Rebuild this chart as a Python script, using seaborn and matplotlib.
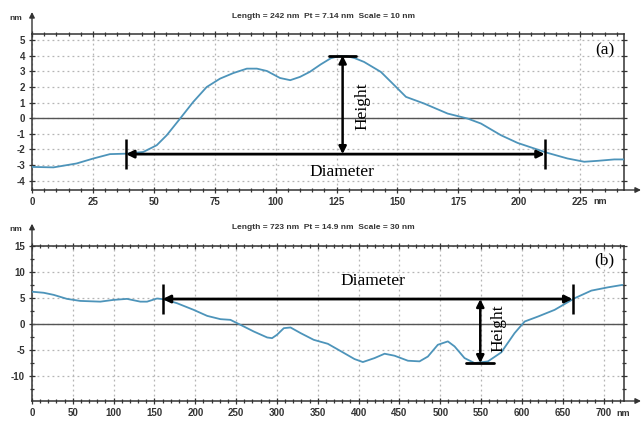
import numpy as np
import pandas as pd
import matplotlib
matplotlib.use("Agg")
import matplotlib.pyplot as plt
import seaborn as sns
from matplotlib.ticker import MultipleLocator, FixedLocator

# ---------------- data ----------------
a_x = [0, 8.8, 18.3, 25.2, 32, 38.9, 45.7, 51.2, 55.3, 60.8, 66.2, 71.7, 77.2, 82.7,
       88.2, 92.3, 96.4, 101.8, 106, 110, 114, 118.5, 122.7, 126, 129.5, 132.5,
       136.3, 143.2, 148.7, 153.5, 161, 170.6, 178.8, 184.3, 192.5, 199.3, 206.2,
       211.6, 219.8, 226.7, 232.2, 239, 243]
a_y = [-3.12, -3.15, -2.9, -2.58, -2.3, -2.27, -2.16, -1.73, -1.09, -0.02, 1.05,
       2.0, 2.54, 2.9, 3.18, 3.18, 3.03, 2.58, 2.44, 2.65, 2.97, 3.45, 3.85, 3.98,
       3.97, 3.85, 3.61, 2.97, 2.12, 1.37, 0.94, 0.3, -0.02, -0.34, -1.09, -1.58,
       -1.94, -2.22, -2.58, -2.79, -2.73, -2.64, -2.64]

b_x = [0, 14.3, 26.5, 42.8, 59.2, 83.7, 100, 116.4, 132.7, 140.9, 153.1, 161.3,
       177.6, 198, 214.5, 230.8, 243, 255.3, 271.6, 288, 294, 300, 308.4, 316.6,
       329, 345, 362.3, 378.7, 395, 405.2, 419.5, 431.8, 444, 460.4, 474.6, 484.8,
       497, 509.3, 517.5, 529.7, 542, 558.3, 574.7, 591, 603.3, 619.6, 640, 664.6,
       685, 705.4, 723]
b_y = [6.2, 6.0, 5.6, 4.83, 4.44, 4.3, 4.64, 4.83, 4.3, 4.3, 4.9, 4.76, 4.0, 2.73,
       1.58, 0.95, 0.82, -0.13, -1.41, -2.55, -2.68, -2.04, -0.77, -0.64, -1.72,
       -3.0, -3.76, -5.22, -6.68, -7.25, -6.49, -5.66, -6.04, -7.0, -7.12, -6.2,
       -3.95, -3.3, -4.26, -6.49, -7.45, -7.13, -5.4, -1.72, 0.5, 1.45, 2.73, 4.96,
       6.41, 7.04, 7.5]

a_xticks = [0, 25, 50, 75, 100, 125, 150, 175, 200, 225]
a_yticks = [-4, -3, -2, -1, 0, 1, 2, 3, 4, 5]
b_xticks = [0, 50, 100, 150, 200, 250, 300, 350, 400, 450, 500, 550, 600, 650, 700]
b_yticks = [-10, -5, 0, 5, 10, 15]

titles = ["Length = 242 nm  Pt = 7.14 nm  Scale = 10 nm",
          "Length = 723 nm  Pt = 14.9 nm  Scale = 30 nm"]
panel_labels = ["(a)", "(b)"]

# annotation geometry (data units): diameter (x0, x1, y), height (x, ytop, ybottom)
a_diam = (38.6, 210.5, -2.3)
a_height = (127.5, 4.02, -2.3)
b_diam = (160, 662, 4.8)
b_height = (549, 4.8, -7.45)

# ---------------- style ----------------
sns.set_theme(style="white")
plt.rcParams["font.family"] = ["Liberation Sans", "DejaVu Sans"]

fig = plt.figure(figsize=(6.44, 4.22), dpi=100)
ax_a = fig.add_axes([32 / 644, 1 - 190 / 422, 592 / 644, 156 / 422])
ax_b = fig.add_axes([32 / 644, 1 - 401 / 422, 592 / 644, 155.3 / 422])

line_color = "#4d94ba"
serif = ["Liberation Serif", "DejaVu Serif"]
TXT = "#333333"


def style_axes(ax, xlim, ylim, xticks, yticks, xmin, ymin):
    ax.set_xlim(*xlim)
    ax.set_ylim(*ylim)
    ax.xaxis.set_major_locator(FixedLocator(xticks))
    ax.yaxis.set_major_locator(FixedLocator(yticks))
    ax.xaxis.set_minor_locator(MultipleLocator(xmin))
    ax.yaxis.set_minor_locator(MultipleLocator(ymin))
    ax.set_xticklabels([str(v) for v in xticks])
    ax.set_yticklabels([str(v) for v in yticks])
    ax.grid(True, which="major", color="#b5b5b5", linestyle=(0, (1.5, 2.5)), linewidth=0.9)
    for s in ax.spines.values():
        s.set_visible(True)
        s.set_color(TXT)
        s.set_linewidth(1.1)
    ax.tick_params(which="both", direction="inout", top=True, right=True,
                   bottom=True, left=True, color=TXT, width=0.9)
    ax.tick_params(which="major", length=4)
    ax.tick_params(which="minor", length=3)
    ax.tick_params(labeltop=False, labelright=False, labelsize=7,
                   labelcolor=TXT, pad=3)
    for lab in ax.get_xticklabels() + ax.get_yticklabels():
        lab.set_fontweight("bold")
    ax.axhline(0, color="#555555", linewidth=1.0, zorder=1)
    ax.set_xlabel("")
    ax.set_ylabel("")


def draw_marks(ax, diam, height, tick_half, bar_half, bar_at_top):
    x0, x1, yd = diam
    ax.annotate("", xy=(x0, yd), xytext=(x1, yd),
                arrowprops=dict(arrowstyle="<|-|>", color="black", lw=2.0,
                                mutation_scale=11, shrinkA=0, shrinkB=0), zorder=5)
    for xx in (x0, x1):
        ax.plot([xx, xx], [yd - tick_half, yd + tick_half], color="black", lw=1.8,
                solid_capstyle="butt", zorder=5)
    xh, yt, yb = height
    ax.annotate("", xy=(xh, yt), xytext=(xh, yb),
                arrowprops=dict(arrowstyle="<|-|>", color="black", lw=1.8,
                                mutation_scale=11, shrinkA=0, shrinkB=0), zorder=5)
    ybar = yt if bar_at_top else yb
    ax.plot([xh - bar_half, xh + bar_half], [ybar, ybar], color="black", lw=2.0, zorder=5)


# ---------- panel (a) ----------
df_a = pd.DataFrame({"x": a_x, "y": a_y})
sns.lineplot(data=df_a, x="x", y="y", ax=ax_a, color=line_color, linewidth=1.3,
             zorder=3, estimator=None, sort=False)
style_axes(ax_a, (0, 243), (-4.6, 5.4), a_xticks, a_yticks, 5, 1)
draw_marks(ax_a, a_diam, a_height, 0.95, 5.5, True)
ax_a.text(127, -3.45, "Diameter", family=serif, fontsize=12.5, ha="center",
          va="center", color="black")
ax_a.text(135.5, 0.75, "Height", family=serif, fontsize=12.5, rotation=90,
          ha="center", va="center", color="black")
ax_a.text(235, 4.35, panel_labels[0], family=serif, fontsize=12.5, ha="center",
          va="center", color="black")

# ---------- panel (b) ----------
df_b = pd.DataFrame({"x": b_x, "y": b_y})
sns.lineplot(data=df_b, x="x", y="y", ax=ax_b, color=line_color, linewidth=1.3,
             zorder=3, estimator=None, sort=False)
style_axes(ax_b, (0, 725), (-14.7, 15), b_xticks, b_yticks, 10, 2.5)
draw_marks(ax_b, b_diam, b_height, 2.8, 17, False)
ax_b.text(417, 8.3, "Diameter", family=serif, fontsize=12.5, ha="center",
          va="center", color="black")
ax_b.text(571, -0.7, "Height", family=serif, fontsize=12.5, rotation=90,
          ha="center", va="center", color="black")
ax_b.text(701, 12.2, panel_labels[1], family=serif, fontsize=12.5, ha="center",
          va="center", color="black")

# ---------- decorations: titles, nm labels, axis arrows ----------
for ax, title, last in ((ax_a, titles[0], a_xticks[-1]), (ax_b, titles[1], b_xticks[-1])):
    ax.annotate(title, xy=(0.492, 1), xycoords="axes fraction", xytext=(0, 18),
                textcoords="offset pixels", ha="center", va="center",
                fontsize=6, fontweight="bold", color=TXT, annotation_clip=False)
    ax.annotate("nm", xy=(0, 1), xycoords="axes fraction", xytext=(-16, 16),
                textcoords="offset pixels", ha="center", va="center",
                fontsize=6, fontweight="bold", color=TXT, annotation_clip=False)
    ax.annotate("", xy=(0, 1), xycoords="axes fraction", xytext=(0, 22),
                textcoords="offset pixels",
                arrowprops=dict(arrowstyle="<|-", color=TXT, lw=1.0,
                                mutation_scale=8, shrinkA=0, shrinkB=0),
                annotation_clip=False)
    ax.annotate("", xy=(1, 0), xycoords="axes fraction", xytext=(17, 0),
                textcoords="offset pixels",
                arrowprops=dict(arrowstyle="<|-", color=TXT, lw=1.0,
                                mutation_scale=8, shrinkA=0, shrinkB=0),
                annotation_clip=False)
    ax.annotate("nm", xy=(last, 0), xycoords=("data", "axes fraction"),
                xytext=(13, -12), textcoords="offset pixels", ha="left",
                va="center", fontsize=6.5, fontweight="bold", color=TXT,
                annotation_clip=False)

fig.savefig("out.png", dpi=100)
